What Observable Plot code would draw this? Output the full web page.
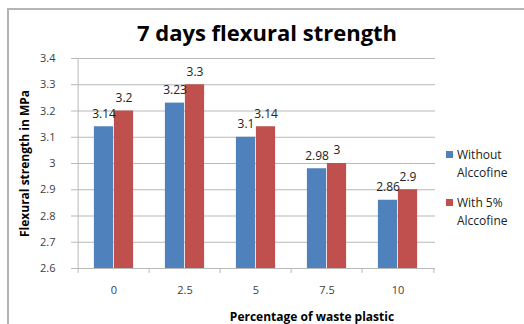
<!DOCTYPE html>
<html>
<head>
<meta charset="utf-8">
<script src="https://cdn.jsdelivr.net/npm/d3@7"></script>
<script src="https://cdn.jsdelivr.net/npm/@observablehq/plot@0.6"></script>
<style>
  html, body { margin: 0; padding: 0; background: #fff; }
  #wrap { position: relative; width: 524px; height: 324px; overflow: hidden; font-family: "Open Sans", sans-serif; }
  #border { position: absolute; left: 7px; top: 8px; width: 700px; height: 500px;
            border-left: 2px solid #b4b4b4; border-top: 2px solid #b4b4b4; }
  #title { position: absolute; left: 0; width: 534px; top: 17px; text-align: center;
           font-weight: 700; font-size: 22px; color: #000; line-height: 30px; }
  #chart { position: absolute; left: 0; top: 0; }
  .legend { position: absolute; left: 446px; font-size: 12px; color: #222; line-height: 18px; }
  .legend .sw { position: absolute; left: 0; top: 5px; width: 7px; height: 7px; }
  .legend .lab { position: absolute; left: 11px; top: 0; white-space: nowrap; }
</style>
</head>
<body>
<div id="wrap">
  <div id="border"></div>
  <div id="chart"></div>
  <div id="title"></div>
  <div id="legend"></div>
</div>
<script>
// Flexural strength at 7 days vs. waste plastic content
const categories = ["0", "2.5", "5", "7.5", "10"];
const withoutAlccofine = [3.14, 3.23, 3.1, 2.98, 2.86];
const with5Alccofine = [3.2, 3.3, 3.14, 3.0, 2.9];
const seriesNames = [["Without", "Alccofine"], ["With 5%", "Alccofine"]];
const seriesColors = ["#4f81bd", "#c0504d"];
const yTicks = [2.6, 2.7, 2.8, 2.9, 3, 3.1, 3.2, 3.3, 3.4];
const titleText = "7 days flexural strength";
const xTitle = "Percentage of waste plastic";
const yTitle = "Flexural strength in MPa";

const rowsA = categories.map((c, i) => ({cat: c, v: withoutAlccofine[i]}));
const rowsB = categories.map((c, i) => ({cat: c, v: with5Alccofine[i]}));

const W = 524, H = 324;
const mL = 76, mR = 89, mT = 58, mB = 56;
const step = (W - mL - mR) / categories.length;
const barW = 20;
const outer = (step - 2 * barW) / 2;
const grid = "#b9b9b9";

const chart = Plot.plot({
  width: W, height: H,
  marginLeft: mL, marginRight: mR, marginTop: mT, marginBottom: mB,
  style: { fontFamily: "Open Sans, sans-serif", fontSize: "11px", color: "#404040", background: "transparent", overflow: "visible" },
  x: { domain: categories, padding: 0, tickSize: 0, tickPadding: 18, label: null, fontSize: 12 },
  y: { domain: [2.6, 3.4], ticks: yTicks, tickSize: 0, tickPadding: 21, tickFormat: d => String(d), label: null },
  marks: [
    // horizontal gridlines, extended slightly left as tick marks
    Plot.ruleY(yTicks, { y: d => d, stroke: grid, strokeWidth: 1, insetLeft: -5 }),
    // left axis line
    Plot.ruleX([categories[0]], { x: d => d, dx: -step / 2, stroke: grid }),
    // category boundary tick marks below the base line
    Plot.ruleX(categories, { x: d => d, y1: 2.6, y2: 2.6, dx: -step / 2, insetBottom: -5, stroke: grid }),
    Plot.ruleX([categories[categories.length - 1]], { x: d => d, y1: 2.6, y2: 2.6, dx: step / 2, insetBottom: -5, stroke: grid }),
    Plot.barY(rowsA, { x: "cat", y1: 2.6, y2: "v", fill: seriesColors[0], insetLeft: outer, insetRight: outer + barW }),
    Plot.barY(rowsB, { x: "cat", y1: 2.6, y2: "v", fill: seriesColors[1], insetLeft: outer + barW, insetRight: outer }),
    Plot.text(rowsA, { x: "cat", y: "v", text: d => String(d.v), dx: -barW / 2, dy: -13, fontSize: 12, fill: "#222" }),
    Plot.text(rowsB, { x: "cat", y: "v", text: d => String(d.v), dx: barW / 2, dy: -13, fontSize: 12, fill: "#222" }),
    Plot.text([xTitle], { text: d => d, frameAnchor: "bottom", textAnchor: "middle", dy: 52, dx: 56, fontWeight: "bold", fontSize: 12, fill: "#000" }),
    Plot.text([yTitle], { text: d => d, frameAnchor: "left", textAnchor: "middle", lineAnchor: "middle", rotate: -90, dx: -51, fontWeight: "bold", fontSize: 12, fill: "#000" })
  ]
});
document.getElementById("chart").appendChild(chart);
document.getElementById("title").textContent = titleText;

const legend = document.getElementById("legend");
const legendTops = [146, 194];
seriesNames.forEach((lines, i) => {
  const item = document.createElement("div");
  item.className = "legend";
  item.style.top = legendTops[i] + "px";
  const sw = document.createElement("div");
  sw.className = "sw";
  sw.style.background = seriesColors[i];
  const lab = document.createElement("div");
  lab.className = "lab";
  lab.innerHTML = lines.join("<br>");
  item.appendChild(sw);
  item.appendChild(lab);
  legend.appendChild(item);
});
</script>
</body>
</html>
